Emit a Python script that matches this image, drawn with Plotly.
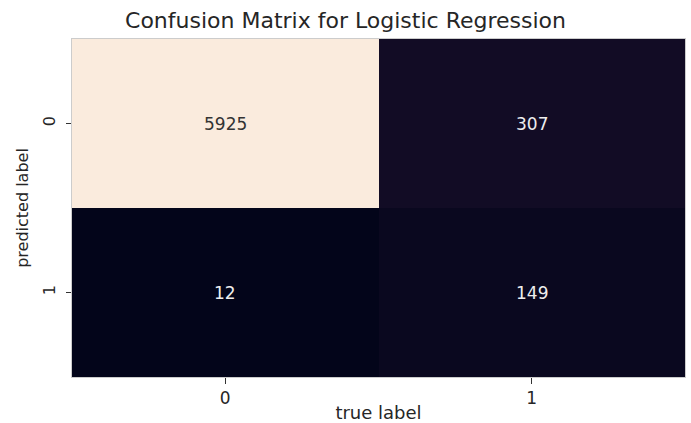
import plotly.graph_objects as go

true_labels = ["0", "1"]
pred_labels = ["0", "1"]
counts = [[5925, 307],
          [12, 149]]

rocket = [
    [0.0, "#03051A"], [0.1, "#221331"], [0.2, "#451C47"], [0.3, "#6A1F56"],
    [0.4, "#921C5B"], [0.5, "#B91657"], [0.6, "#DC2F48"], [0.7, "#F06043"],
    [0.8, "#F6906A"], [0.9, "#F7B799"], [1.0, "#FAEBDD"],
]

fig = go.Figure(go.Heatmap(
    z=counts, x=[0, 1], y=[0, 1], colorscale=rocket, showscale=False,
    xgap=0, ygap=0, hoverinfo="skip",
))

zmin = min(min(r) for r in counts)
zmax = max(max(r) for r in counts)
for i, row in enumerate(counts):
    for j, v in enumerate(row):
        frac = (v - zmin) / (zmax - zmin)
        fig.add_annotation(x=j, y=i, text=str(v), showarrow=False,
                           font=dict(size=17, color="#333333" if frac > 0.5 else "#eeeeee",
                                     family="DejaVu Sans"))

fig.update_layout(
    width=691, height=423,
    margin=dict(l=72, r=6, t=39, b=46),
    paper_bgcolor="white", plot_bgcolor="white",
    font=dict(family="DejaVu Sans", color="#262626"),
    title=dict(text="Confusion Matrix for Logistic Regression", x=0.5, xanchor="center",
               y=0.953, yanchor="middle", font=dict(size=22, color="#262626")),
    showlegend=False,
)
fig.update_xaxes(tickvals=[0, 1], ticktext=true_labels, range=[-0.5, 1.5], automargin=False,
                 ticks="outside", ticklen=6, tickcolor="#333", showgrid=False, zeroline=False,
                 tickfont=dict(size=17), title=dict(text="true label", font=dict(size=18), standoff=0),
                 showline=True, linecolor="#cccccc", mirror=True, linewidth=1)
fig.update_yaxes(tickvals=[0, 1], ticktext=pred_labels, range=[1.5, -0.5], automargin=False,
                 ticks="outside", ticklen=5, tickcolor="#333", showgrid=False, zeroline=False,
                 tickangle=-90, tickfont=dict(size=16), ticklabelstandoff=5,
                 title=dict(text="predicted label", font=dict(size=16), standoff=6),
                 showline=True, linecolor="#cccccc", mirror=True, linewidth=1)

fig.write_html("out.html", config={"displayModeBar": False},
               post_script="document.body.style.margin='0';document.body.style.padding='0';")
